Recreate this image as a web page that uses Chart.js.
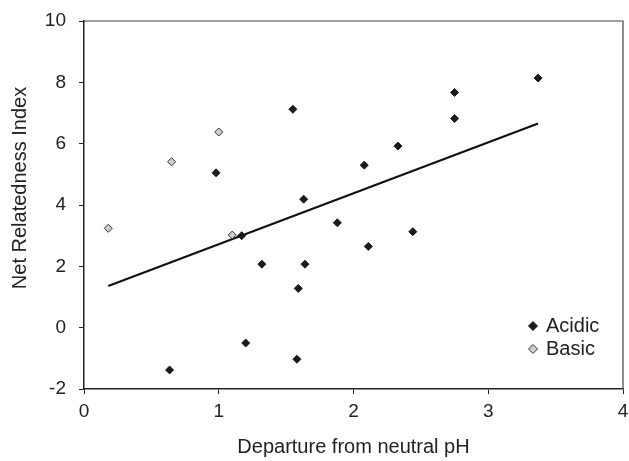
<!DOCTYPE html>
<html>
<head>
<meta charset="utf-8">
<script src="https://cdn.jsdelivr.net/npm/chart.js@4/dist/chart.umd.min.js"></script>
<style>
  body { margin: 0; background: #fff; }
  #wrap { width: 629px; height: 461px; }
</style>
</head>
<body>
<div id="wrap"><canvas id="phChart" width="629" height="461"></canvas></div>
<script>
// values
const acidicX = [0.98, 1.55, 1.63, 1.17, 1.32, 1.64, 1.59, 1.20, 0.635, 1.58, 1.88, 2.44, 2.08, 2.33, 2.75, 2.75, 3.37, 2.11];
const acidicY = [5.05, 7.12, 4.19, 3.00, 2.07, 2.07, 1.28, -0.50, -1.38, -1.03, 3.42, 3.13, 5.30, 5.92, 7.67, 6.82, 8.14, 2.65];
const basicX = [0.18, 0.65, 1.00, 1.10];
const basicY = [3.24, 5.41, 6.38, 3.02];
const trendX = [0.18, 3.37];
const trendY = [1.36, 6.66];
const xTicks = [0, 1, 2, 3, 4];
const yTicks = [-2, 0, 2, 4, 6, 8, 10];

const toPoints = (xs, ys) => xs.map((x, i) => ({ x: x, y: ys[i] }));

const FONT = 'Liberation Sans, Arial, sans-serif';
const INK = '#222';

// Box round the plot (top + right sides)
const frame = {
    id: 'frame',
    afterDraw(chart) {
        const a = chart.chartArea, ctx = chart.ctx;
        ctx.save();
        ctx.strokeStyle = '#444';
        ctx.lineWidth = 1.2;
        ctx.beginPath();
        ctx.moveTo(a.left, a.top);
        ctx.lineTo(a.right, a.top);
        ctx.lineTo(a.right, a.bottom);
        ctx.stroke();
        ctx.restore();
    }
};

// y title sits a bit above the middle of the axis in the original
const yTitle = {
    id: 'yTitle',
    afterDraw(chart) {
        const a = chart.chartArea, ctx = chart.ctx;
        ctx.save();
        ctx.translate(20, (a.top + a.bottom) / 2 - 17);
        ctx.rotate(-Math.PI / 2);
        ctx.font = '20px ' + FONT;
        ctx.fillStyle = INK;
        ctx.textAlign = 'center';
        ctx.textBaseline = 'middle';
        ctx.fillText('Net Relatedness Index', 0, 0);
        ctx.restore();
    }
};

// Legend inside the plot, bottom right
const innerLegend = {
    id: 'innerLegend',
    afterDraw(chart) {
        const a = chart.chartArea, ctx = chart.ctx;
        let x = a.right - 90, y = a.bottom - 63;
        ctx.save();
        ctx.font = '20px ' + FONT;
        ctx.textBaseline = 'middle';
        chart.data.datasets.forEach(ds => {
            if (ds.type === 'line') return;
            const r = 4.5;
            ctx.beginPath();
            ctx.moveTo(x - r, y); ctx.lineTo(x, y - r); ctx.lineTo(x + r, y); ctx.lineTo(x, y + r);
            ctx.closePath();
            ctx.fillStyle = ds.backgroundColor;
            ctx.fill();
            ctx.lineWidth = 1;
            ctx.strokeStyle = ds.borderColor;
            ctx.stroke();
            ctx.fillStyle = INK;
            ctx.fillText(ds.label, x + 13, y);
            y += 23;
        });
        ctx.restore();
    }
};

new Chart(document.getElementById('phChart'), {
    type: 'scatter',
    data: {
        datasets: [
            {
                label: 'Acidic',
                data: toPoints(acidicX, acidicY),
                pointStyle: 'rectRot',
                pointRadius: 4,
                pointHoverRadius: 4,
                backgroundColor: '#1a1a1a',
                borderColor: '#1a1a1a',
                borderWidth: 1
            },
            {
                label: 'Basic',
                data: toPoints(basicX, basicY),
                pointStyle: 'rectRot',
                pointRadius: 4,
                pointHoverRadius: 4,
                backgroundColor: '#cfcfcf',
                borderColor: '#333',
                borderWidth: 1
            },
            {
                type: 'line',
                label: 'Trend',
                data: toPoints(trendX, trendY),
                borderColor: '#111',
                borderWidth: 2.2,
                pointRadius: 0,
                fill: false
            }
        ]
    },
    options: {
        responsive: false,
        animation: false,
        layout: { padding: { top: 21, right: 6, bottom: 0, left: 0 } },
        plugins: { legend: { display: false }, tooltip: { enabled: false } },
        scales: {
            x: {
                type: 'linear',
                min: 0, max: 4,
                afterFit: s => { s.height = 72; s.paddingLeft = 0; s.paddingRight = 0; },
                afterBuildTicks: s => { s.ticks = xTicks.map(v => ({ value: v })); },
                grid: { drawOnChartArea: false, drawTicks: true, tickLength: 5, color: INK, tickWidth: 1 },
                border: { color: INK, width: 1.5 },
                ticks: { color: INK, font: { family: FONT, size: 19 }, padding: 6, maxRotation: 0 },
                title: { display: true, text: 'Departure from neutral pH', color: INK, font: { family: FONT, size: 20 }, padding: { top: 2, bottom: 2 } }
            },
            y: {
                type: 'linear',
                min: -2, max: 10,
                afterFit: s => { s.width = 84; s.paddingTop = 0; s.paddingBottom = 0; },
                afterBuildTicks: s => { s.ticks = yTicks.map(v => ({ value: v })); },
                grid: { drawOnChartArea: false, drawTicks: true, tickLength: 5, color: INK, tickWidth: 1 },
                border: { color: INK, width: 1.5 },
                ticks: { color: INK, font: { family: FONT, size: 19 }, padding: 13 },
                title: { display: false }
            }
        }
    },
    plugins: [frame, yTitle, innerLegend]
});
</script>
</body>
</html>
